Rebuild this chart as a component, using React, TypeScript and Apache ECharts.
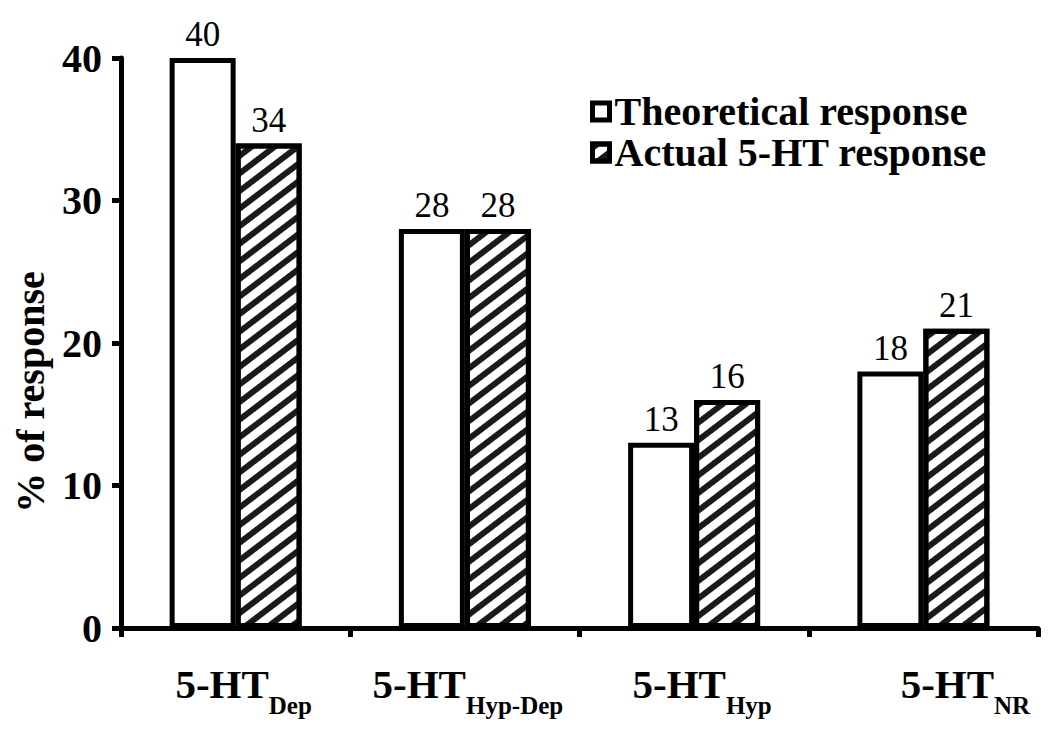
import React, { useEffect, useRef } from "react";
import * as echarts from "echarts";

const categories = ["Dep", "Hyp-Dep", "Hyp", "NR"];
const seriesNames = ["Theoretical response", "Actual 5-HT response"];
const theoretical = [40, 28, 13, 18];
const actual = [34, 28, 16, 21];
const yMin = 0;
const yMax = 40;
const yInterval = 10;
const yAxisTitle = "% of response";
const labelPrefix = "5-HT";
// horizontal padding (px) added left of each category label, to follow the reference
const labelShift = [16, 6, 16, 84];

const SERIF = "'Liberation Serif', 'Times New Roman', serif";

export default function App() {
  const ref = useRef<HTMLDivElement>(null);

  useEffect(() => {
    const chart = echarts.init(ref.current!, null, { renderer: "svg" });
    const hatch = {
      symbol: "rect",
      symbolSize: 1,
      dashArrayX: [1, 0],
      dashArrayY: [6, 8],
      rotation: -0.65,
      color: "#1a1a1a",
      backgroundColor: "#ffffff",
    };
    const valueLabel = {
      show: true,
      position: "top",
      distance: 6,
      color: "#000",
      fontFamily: SERIF,
      fontSize: 35,
      fontWeight: "normal",
    };
    chart.setOption({
      animation: false,
      backgroundColor: "#ffffff",
      grid: { left: 121, right: 12, top: 58, bottom: 107, containLabel: false },
      legend: {
        orient: "vertical",
        left: 585,
        top: 86,
        itemGap: 0,
        itemWidth: 17,
        itemHeight: 17,
        icon: "rect",
        itemStyle: { borderWidth: 5, borderColor: "#000" },
        textStyle: {
          fontFamily: SERIF,
          fontSize: 40,
          fontWeight: "bold",
          color: "#000",
          lineHeight: 41,
        },
        data: seriesNames,
      },
      xAxis: {
        type: "category",
        data: categories.map((c, i) => ({
          value: c,
          textStyle: { padding: [0, 0, 0, labelShift[i]] },
        })),
        axisLine: { show: true, lineStyle: { color: "#000", width: 5 } },
        axisTick: {
          show: true,
          length: 9,
          lineStyle: { color: "#000", width: 5 },
        },
        splitLine: { show: false },
        axisLabel: {
          margin: 35,
          interval: 0,
          formatter: (v: string) => `{m|${labelPrefix}}{s|${v}}`,
          rich: {
            m: {
              fontFamily: SERIF,
              fontSize: 41,
              fontWeight: "bold",
              color: "#000",
              lineHeight: 44,
              verticalAlign: "top",
            },
            s: {
              fontFamily: SERIF,
              fontSize: 25,
              fontWeight: "bold",
              color: "#000",
              lineHeight: 25,
              padding: [30, 0, 0, 0],
              verticalAlign: "top",
            },
          },
        },
      },
      yAxis: {
        type: "value",
        min: yMin,
        max: yMax,
        interval: yInterval,
        axisLine: { show: true, lineStyle: { color: "#000", width: 5 } },
        axisTick: {
          show: true,
          length: 9,
          lineStyle: { color: "#000", width: 5 },
        },
        splitLine: { show: false },
        axisLabel: {
          margin: 19,
          fontFamily: SERIF,
          fontSize: 40,
          fontWeight: "bold",
          color: "#000",
        },
      },
      graphic: [
        {
          type: "text",
          x: 30,
          y: 392,
          rotation: Math.PI / 2,
          style: {
            text: yAxisTitle,
            fontFamily: SERIF,
            fontSize: 40,
            fontWeight: "bold",
            fill: "#000",
            textAlign: "center",
            textVerticalAlign: "middle",
          },
        },
      ],
      series: [
        {
          name: seriesNames[0],
          type: "bar",
          data: theoretical,
          barWidth: 66,
          barGap: "0%",
          itemStyle: { color: "#ffffff", borderColor: "#000", borderWidth: 5 },
          label: valueLabel,
        },
        {
          name: seriesNames[1],
          type: "bar",
          data: actual,
          barWidth: 66,
          barGap: "0%",
          itemStyle: {
            color: "#ffffff",
            borderColor: "#000",
            borderWidth: 5,
            decal: hatch,
          },
          label: valueLabel,
        },
      ],
    });
    return () => chart.dispose();
  }, []);

  return (
    <div
      ref={ref}
      style={{ width: 1050, height: 735, position: "absolute", left: 0, top: 0 }}
    />
  );
}
